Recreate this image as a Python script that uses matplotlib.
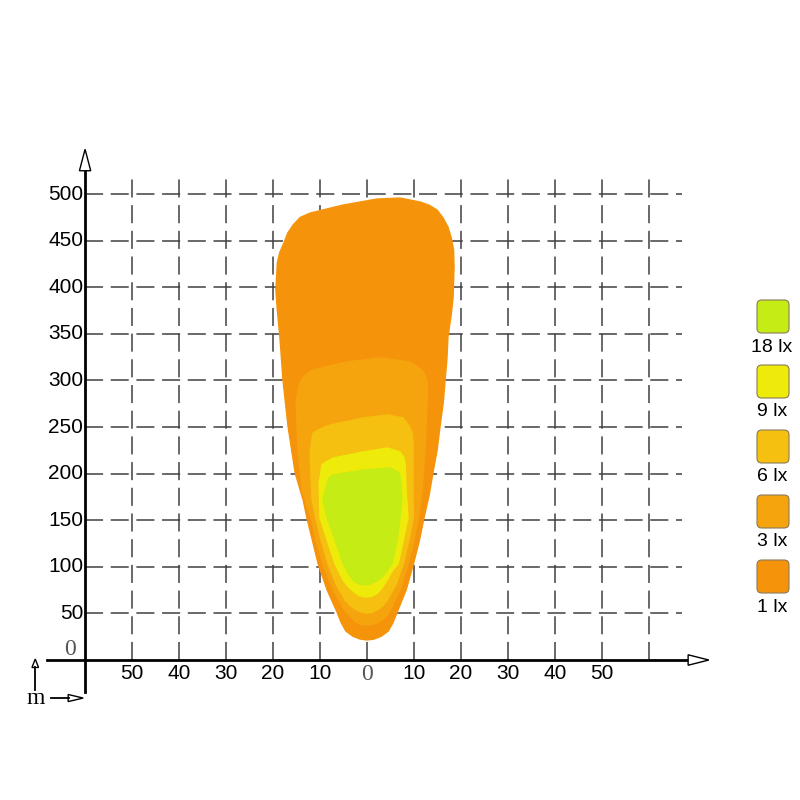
import matplotlib
matplotlib.use("Agg")
import matplotlib.pyplot as plt
from matplotlib.patches import Polygon, FancyBboxPatch

plt.rcParams["font.family"] = ["Liberation Sans", "DejaVu Sans"]
plt.rcParams["lines.scale_dashes"] = False

# isolux contours (x in m left/right, y in m ahead)
lx1_x = [0, 1.5, 3.0, 4.5, 5.5, 6.4, 8.3, 9.8, 11.1, 12.1, 13.2, 14.0, 14.9, 15.5, 16.2, 16.6,
         17.0, 17.2, 17.9, 18.3, 18.5, 18.4, 17.9, 17.2, 16.2, 14.9, 13.2, 11.3, 7.0, 2.1, -5.1,
         -12.1, -14.2, -15.7, -16.9, -17.7, -18.6, -19.1, -19.4, -19.1, -18.5, -17.9, -16.8,
         -15.3, -13.6, -12.8, -10.4, -8.5, -6.4, -5.5, -4.5, -3.0, -1.5]
lx1_y = [21.5, 22.5, 25.5, 31.0, 40.0, 51.5, 75.1, 101.9, 127.7, 152.4, 177.0, 200.6, 225.3,
         250.0, 275.8, 300.4, 324.0, 346.6, 370.2, 389.5, 421.7, 440.0, 453.0, 464.6, 474.0,
         482.8, 488.0, 491.4, 495.7, 494.6, 488.2, 479.6, 475.0, 467.0, 458.0, 447.4, 437.0,
         426.0, 397.0, 375.5, 343.3, 300.4, 250.0, 200.6, 171.7, 152.4, 103.0, 75.1, 51.5,
         40.0, 31.0, 25.5, 22.5]

lx3_x = [0, 1.2, 2.8, 4.1, 4.9, 7.0, 8.7, 10.0, 10.9, 11.7, 12.3, 12.8, 12.8, 12.4, 11.7, 9.1,
         2.8, -4.3, -11.5, -13.3, -14.3, -15.1, -14.7, -13.8, -11.9, -10.9, -9.4, -7.2, -4.7,
         -3.6, -2.6, -1.2]
lx3_y = [37.6, 38.2, 41.5, 47.0, 52.6, 75.1, 103.0, 128.8, 152.4, 182.4, 225.3, 279.0, 297.2,
         305.0, 311.2, 319.8, 324.1, 319.8, 311.2, 305.0, 297.2, 279.0, 225.3, 182.4, 152.4,
         128.8, 103.0, 75.1, 52.6, 47.0, 41.5, 38.2]

lx6_x = [-0.2, 1.0, 2.3, 3.4, 4.3, 6.2, 7.7, 8.9, 9.8, 9.8, 9.8, 9.6, 9.1, 7.7, 4.3, -0.9, -7.9,
         -10.2, -11.5, -12.1, -11.9, -11.7, -10.9, -9.8, -8.3, -6.6, -4.7, -3.6, -2.6, -1.3]
lx6_y = [50.4, 51.2, 54.0, 58.5, 64.4, 81.5, 103.0, 128.8, 152.4, 189.9, 232.8, 243.0, 250.0,
         259.7, 262.9, 259.7, 252.1, 247.5, 243.6, 225.3, 189.9, 171.7, 152.4, 128.8, 103.0,
         81.5, 64.4, 58.5, 54.7, 51.5]

lx9_x = [-0.4, 0.8, 1.9, 3.0, 4.0, 5.5, 6.6, 7.7, 8.7, 8.3, 8.1, 7.7, 7.0, 4.3, -0.9, -7.2,
         -8.8, -9.6, -10.2, -10.0, -8.5, -6.8, -5.1, -4.0, -2.8, -1.6]
lx9_y = [67.6, 68.3, 70.5, 76.0, 83.7, 96.6, 103.0, 128.8, 152.4, 182.4, 211.4, 218.5, 223.2,
         227.5, 223.2, 216.7, 212.5, 209.2, 189.9, 152.4, 128.8, 103.0, 85.8, 78.5, 73.0, 69.0]

lx18_x = [-0.6, 0.4, 1.7, 3.0, 4.0, 5.3, 6.4, 7.0, 7.4, 7.2, 7.0, 6.6, 4.9, -0.9, -7.2, -8.1,
          -8.5, -9.4, -8.5, -6.8, -5.1, -3.8, -2.8, -1.7]
lx18_y = [80.5, 81.0, 83.7, 88.0, 94.4, 103.0, 128.8, 152.4, 171.7, 189.9, 197.5, 201.7, 206.0,
          203.9, 198.5, 195.7, 189.9, 171.7, 152.4, 128.8, 103.0, 91.2, 84.8, 81.5]

levels = ["1 lx", "3 lx", "6 lx", "9 lx", "18 lx"]
colors = ["#F5940B", "#F6A40D", "#F5C00F", "#EEEB0A", "#C6EC15"]
contours = [(lx1_x, lx1_y), (lx3_x, lx3_y), (lx6_x, lx6_y), (lx9_x, lx9_y), (lx18_x, lx18_y)]

x_grid = [-50, -40, -30, -20, -10, 0, 10, 20, 30, 40, 50, 60]
y_grid = [50, 100, 150, 200, 250, 300, 350, 400, 450, 500]
x_ticks = [-50, -40, -30, -20, -10, 0, 10, 20, 30, 40, 50]
y_ticks = [50, 100, 150, 200, 250, 300, 350, 400, 450, 500]

fig = plt.figure(figsize=(8, 8), dpi=100)
ax = fig.add_axes([0, 0, 1, 1])
ax.set_xlim(-78.1, 92.1)
ax.set_ylim(-150.2, 708.2)
ax.axis("off")

dash = (0, (13, 5.5))
for gx in x_grid:
    ax.plot([gx, gx], [0, 523], color="#404040", lw=1.1, ls=dash, zorder=1)
for gy in y_grid:
    ax.plot([-60, 67], [gy, gy], color="#404040", lw=1.1, ls=dash, zorder=1)

for (cx, cy), c in zip(contours, colors):
    ax.add_patch(Polygon(list(zip(cx, cy)), closed=True, facecolor=c, edgecolor=c,
                         lw=1.0, joinstyle="round", zorder=2))

# axes with open arrow heads
ax.plot([-60, -60], [-34, 530], color="black", lw=2, zorder=3)
ax.plot([-68, 68.5], [0, 0], color="black", lw=2, zorder=3)
ax.add_patch(Polygon([(-61.2, 525), (-58.8, 525), (-60, 548)], closed=True,
                     facecolor="white", edgecolor="black", lw=1, zorder=4))
ax.add_patch(Polygon([(68.3, 5.6), (68.3, -5.6), (72.7, 0)], closed=True,
                     facecolor="white", edgecolor="black", lw=1, zorder=4))

for t in x_ticks:
    if t == 0:
        ax.text(t, -16, "0", ha="center", va="center", fontsize=17, color="#555555",
                family="Liberation Serif")
    else:
        ax.text(t, -15, str(abs(t)), ha="center", va="center", fontsize=15)
for t in y_ticks:
    ax.text(-60.4, t, str(t), ha="right", va="center", fontsize=15)
ax.text(-63.3, 11.5, "0", ha="center", va="center", fontsize=17, color="#555555",
        family="Liberation Serif")

# small unit indicator
ax.text(-70.5, -41, "m", ha="center", va="center", fontsize=17, family="Liberation Serif")
ax.plot([-70.6, -70.6], [-32, -7], color="black", lw=1.3)
ax.add_patch(Polygon([(-71.3, -8), (-69.9, -8), (-70.6, 1)], closed=True,
                     facecolor="white", edgecolor="black", lw=1))
ax.plot([-67.2, -63.5], [-40.8, -40.8], color="black", lw=1.3)
ax.add_patch(Polygon([(-63.6, -37), (-63.6, -44.6), (-60.4, -40.8)], closed=True,
                     facecolor="white", edgecolor="black", lw=1))

# legend
for i, (lab, c) in enumerate(zip(levels[::-1], colors[::-1])):
    top = 300 + 65 * i
    box = FancyBboxPatch((757 / 800, 1 - (top + 33) / 800), 32 / 800, 33 / 800,
                         boxstyle="round,pad=0,rounding_size=0.006",
                         transform=fig.transFigure, facecolor=c, edgecolor="#8a7a5a", lw=0.8)
    fig.patches.append(box)
    fig.text(772 / 800, 1 - (top + 47) / 800, lab, ha="center", va="center", fontsize=14)

fig.savefig("out.png", dpi=100)
